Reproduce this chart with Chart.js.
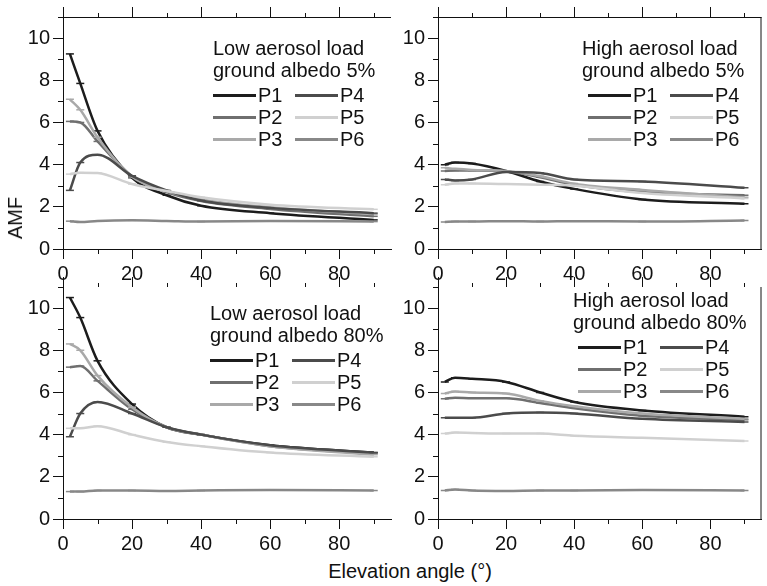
<!DOCTYPE html>
<html>
<head>
<meta charset="utf-8">
<script src="https://cdn.jsdelivr.net/npm/chart.js@4.4.1/dist/chart.umd.min.js"></script>
<style>
  body { margin: 0; background: #fff; }
  #page { position: relative; width: 767px; height: 586px; overflow: hidden;
          font-family: "Liberation Sans", Arial, sans-serif; color: #111; }
  canvas { position: absolute; }
  .txt { position: absolute; font-size: 20px; line-height: 22px; white-space: nowrap; }
  .swatch { position: absolute; width: 43px; height: 3px; }
</style>
</head>
<body>
<div id="page">
  <canvas id="c0" width="400" height="290" style="left:0;top:0"></canvas>
  <canvas id="c1" width="392" height="290" style="left:375px;top:0"></canvas>
  <canvas id="c2" width="400" height="290" style="left:0;top:270px"></canvas>
  <canvas id="c3" width="392" height="290" style="left:375px;top:270px"></canvas>
</div>
<script>
// elevation angles (deg) used in every panel
const elevation = [2, 5, 10, 20, 30, 40, 60, 90];
const seriesNames = ['P1', 'P2', 'P3', 'P4', 'P5', 'P6'];
const seriesColors = ['#1c1c1c', '#6f6f6f', '#a9a9a9', '#4b4b4b', '#d0d0d0', '#888888'];

// AMF values, rows P1..P6
const lowLoad5 = [
  [9.25, 7.85, 5.6, 3.38, 2.55, 2.05, 1.7, 1.38],
  [6.05, 6.0, 5.1, 3.45, 2.7, 2.28, 1.9, 1.55],
  [7.1, 6.6, 5.3, 3.42, 2.75, 2.35, 1.98, 1.65],
  [2.78, 4.1, 4.47, 3.47, 2.78, 2.3, 1.95, 1.7],
  [3.55, 3.62, 3.6, 3.08, 2.75, 2.45, 2.1, 1.88],
  [1.32, 1.28, 1.33, 1.36, 1.33, 1.3, 1.33, 1.3]
];
const highLoad5 = [
  [4.0, 4.1, 4.05, 3.7, 3.2, 2.85, 2.35, 2.15],
  [3.7, 3.72, 3.72, 3.68, 3.4, 3.05, 2.7, 2.55],
  [3.85, 3.8, 3.75, 3.7, 3.45, 3.1, 2.8, 2.45],
  [3.3, 3.25, 3.3, 3.65, 3.6, 3.3, 3.2, 2.9],
  [3.05, 3.1, 3.1, 3.08, 3.05, 3.0, 2.65, 2.4],
  [1.28, 1.3, 1.3, 1.32, 1.3, 1.32, 1.3, 1.35]
];
const lowLoad80 = [
  [10.5, 9.55, 7.5, 5.45, 4.35, 4.0, 3.5, 3.15],
  [7.2, 7.25, 6.55, 5.2, 4.35, 4.0, 3.45, 3.1],
  [8.3, 8.0, 6.8, 5.3, 4.35, 4.0, 3.45, 3.05],
  [3.9, 5.0, 5.55, 5.0, 4.35, 4.0, 3.5, 3.15],
  [4.3, 4.3, 4.4, 4.0, 3.65, 3.45, 3.15, 2.95],
  [1.3, 1.3, 1.35, 1.35, 1.33, 1.35, 1.38, 1.35]
];
const highLoad80 = [
  [6.5, 6.7, 6.65, 6.5, 6.0, 5.55, 5.15, 4.85],
  [5.7, 5.75, 5.72, 5.72, 5.5, 5.25, 4.9, 4.7],
  [5.95, 6.05, 6.0, 5.95, 5.6, 5.35, 5.0, 4.75],
  [4.8, 4.8, 4.8, 5.0, 5.05, 5.0, 4.75, 4.6],
  [4.05, 4.1, 4.08, 4.05, 4.05, 3.95, 3.85, 3.7],
  [1.35, 1.4, 1.35, 1.33, 1.35, 1.35, 1.37, 1.35]
];

const yTicksMax = 11;
const xTicksMax = 95;

const panels = [
  { id: 'c0', data: lowLoad5,   title: ['Low aerosol load', 'ground albedo 5%'],   right: false, top: true,  tx: 213, ty: 48,  lx: 213, padRight: 9 },
  { id: 'c1', data: highLoad5,  title: ['High aerosol load', 'ground albedo 5%'],  right: true,  top: true,  tx: 582, ty: 48,  lx: 588, padRight: 2 },
  { id: 'c2', data: lowLoad80,  title: ['Low aerosol load', 'ground albedo 80%'],  right: false, top: false, tx: 210, ty: 313, lx: 210, padRight: 9 },
  { id: 'c3', data: highLoad80, title: ['High aerosol load', 'ground albedo 80%'], right: true,  top: false, tx: 573, ty: 300, lx: 578, padRight: 2 }
];

// minor ticks, top ticks, frame lines
const frameTicks = {
  id: 'frameTicks',
  afterDraw(chart, args, opts) {
    const { ctx, chartArea: a, scales: { x, y } } = chart;
    ctx.save();
    ctx.strokeStyle = '#111';
    ctx.lineWidth = 1;
    ctx.beginPath();
    y.ticks.forEach(t => {
      if (t.value % 2) {
        const py = Math.round(y.getPixelForValue(t.value)) + 0.5;
        ctx.moveTo(a.left - 5, py); ctx.lineTo(a.left, py);
      }
    });
    x.ticks.forEach(t => {
      const px = Math.round(x.getPixelForValue(t.value)) + 0.5;
      const major = t.value % 20 === 0;
      if (!major) { ctx.moveTo(px, a.bottom); ctx.lineTo(px, a.bottom + 5); }
      ctx.moveTo(px, a.top); ctx.lineTo(px, a.top - (major ? 10 : 4));
    });
    if (opts.top) { ctx.moveTo(a.left, a.top + 0.5); ctx.lineTo(a.right, a.top + 0.5); }
    if (opts.right) { ctx.moveTo(a.right - 0.5, a.top); ctx.lineTo(a.right - 0.5, a.bottom); }
    ctx.stroke();
    ctx.restore();
  }
};

const tickFont = { family: '"Liberation Sans", Arial, sans-serif', size: 20 };

function makeChart(p) {
  const datasets = p.data.map((vals, i) => ({
    label: seriesNames[i],
    data: elevation.map((e, j) => ({ x: e, y: vals[j] })),
    borderColor: seriesColors[i],
    borderWidth: 2.5,
    pointStyle: 'line',
    pointRadius: 4,
    pointBorderWidth: 1.5,
    pointBorderColor: seriesColors[i],
    cubicInterpolationMode: 'monotone',
    fill: false
  })).reverse();

  new Chart(document.getElementById(p.id), {
    type: 'line',
    data: { datasets },
    plugins: [frameTicks],
    options: {
      responsive: false,
      animation: false,
      layout: { padding: { top: 17, right: p.padRight, left: 0, bottom: 0 } },
      plugins: {
        legend: { display: false },
        tooltip: { enabled: false },
        frameTicks: { top: p.top, right: p.right }
      },
      scales: {
        x: {
          type: 'linear', min: 0, max: xTicksMax,
          afterFit(s) { s.height = 41; },
          border: { display: true, color: '#111', width: 1 },
          grid: {
            drawOnChartArea: false, tickLength: 10,
            tickColor: c => (c.tick && c.tick.value % 20 === 0) ? '#111' : 'rgba(0,0,0,0)'
          },
          ticks: {
            stepSize: 10, includeBounds: false, autoSkip: false, maxRotation: 0,
            padding: 3, color: '#111', font: tickFont,
            callback: v => v % 20 === 0 ? v : ''
          }
        },
        y: {
          min: 0, max: yTicksMax,
          afterFit(s) { s.width = 63; },
          border: { display: true, color: '#111', width: 1 },
          grid: {
            drawOnChartArea: false, tickLength: 10,
            tickColor: c => (c.tick && c.tick.value % 2 === 0) ? '#111' : 'rgba(0,0,0,0)'
          },
          ticks: {
            stepSize: 1, autoSkip: false, padding: 3, color: '#111', font: tickFont,
            callback: v => v % 2 === 0 ? v : ''
          }
        }
      }
    }
  });
}

function addText(str, x, y, extra) {
  const d = document.createElement('div');
  d.className = 'txt';
  d.textContent = str;
  d.style.left = x + 'px';
  d.style.top = (y - 11) + 'px';
  if (extra) Object.assign(d.style, extra);
  document.getElementById('page').appendChild(d);
  return d;
}

function addLegend(p) {
  const page = document.getElementById('page');
  addText(p.title[0], p.tx, p.ty);
  addText(p.title[1], p.tx, p.ty + 22);
  const rowY = [47, 69, 91];
  seriesNames.forEach((name, i) => {
    const col = Math.floor(i / 3), row = i % 3;
    const sx = p.lx + col * 82;
    const cy = p.ty + rowY[row];
    const sw = document.createElement('div');
    sw.className = 'swatch';
    sw.style.left = sx + 'px';
    sw.style.top = (cy - 1.5) + 'px';
    sw.style.background = seriesColors[i];
    page.appendChild(sw);
    addText(name, sx + 45, cy);
  });
}

panels.forEach(p => { makeChart(p); addLegend(p); });

// axis titles
const amf = addText('AMF', 15, 218, { transform: 'translate(-50%, 0) rotate(-90deg)', transformOrigin: '50% 50%' });
addText('Elevation angle (°)', 410, 571, { transform: 'translateX(-50%)' });
</script>
</body>
</html>
